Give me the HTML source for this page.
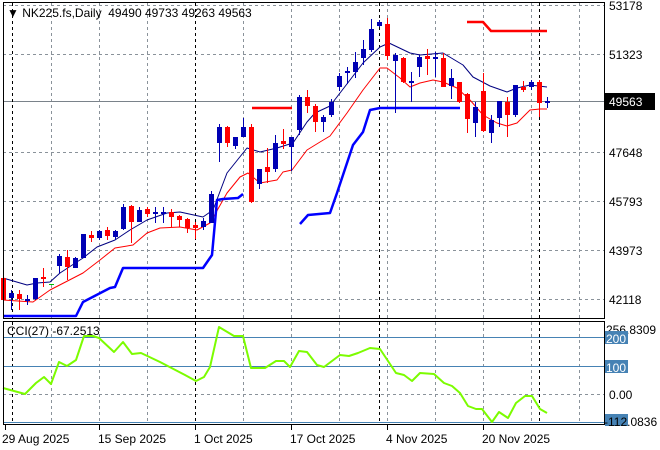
<!DOCTYPE html>
<html><head><meta charset="utf-8"><style>
html,body{margin:0;padding:0;background:#fff;}
svg{display:block;font-family:"Liberation Sans",sans-serif;}
</style></head><body>
<svg id="s" width="660" height="450" xmlns="http://www.w3.org/2000/svg">
<rect width="660" height="450" fill="#fff"/>
<g id="grid" stroke="#8a929a" stroke-dasharray="3,3" stroke-width="1"></g>
<line x1="3" y1="101.5" x2="604" y2="101.5" stroke="#7a828a"/>
<g id="black" stroke="#000" stroke-dasharray="3,3"></g>
<g id="lines" fill="none"></g>
<g id="candles"></g>
<rect x="3.5" y="2.5" width="601" height="316" fill="none" stroke="#000"/>
<rect x="3.5" y="321.5" width="601" height="103" fill="none" stroke="#000"/>
<g font-size="12" fill="#000">
<text x="7" y="17" xml:space="preserve">▼ NK225.fs,Daily  49490 49733 49263 49563</text>
<text x="609" y="10">53178</text>
<text x="609" y="59">51323</text>
<rect x="605" y="93" width="50" height="17" fill="#000"/>
<text x="609" y="106" fill="#fff">49563</text>
<text x="609" y="157">47648</text>
<text x="609" y="206">45793</text>
<text x="609" y="255">43973</text>
<text x="609" y="304">42118</text>
<text x="7" y="335">CCI(27) -67.2513</text>
<text x="606" y="334">256.8309</text>
<rect x="605" y="331" width="23" height="13" fill="#4682b4"/>
<text x="606" y="343" fill="#fff">200</text>
<rect x="605" y="360" width="23" height="13" fill="#4682b4"/>
<text x="606" y="372" fill="#fff">100</text>
<text x="609" y="399">0.00</text>
<rect x="605" y="414" width="23" height="12" fill="#4682b4"/>
<text x="604" y="426">-112.0836</text>
<text x="2" y="443">29 Aug 2025</text>
<text x="98" y="443">15 Sep 2025</text>
<text x="194" y="443">1 Oct 2025</text>
<text x="290" y="443">17 Oct 2025</text>
<text x="386" y="443">4 Nov 2025</text>
<text x="482" y="443">20 Nov 2025</text>
</g>
</svg>
<script>
var NS="http://www.w3.org/2000/svg";
function el(p,t,a){var e=document.createElementNS(NS,t);for(var k in a)e.setAttribute(k,a[k]);document.getElementById(p).appendChild(e);return e;}
for(var x=3;x<=600;x+=48){if(x==195)continue;el("grid","line",{x1:x+.5,y1:3,x2:x+.5,y2:318});el("grid","line",{x1:x+.5,y1:322,x2:x+.5,y2:424});}
[5,54,152,201,250,299].forEach(function(y){el("grid","line",{x1:3,y1:y+.5,x2:604,y2:y+.5});});
el("grid","line",{x1:3,y1:394.5,x2:604,y2:394.5});
[12,195,379,539].forEach(function(x){el("black","line",{x1:x+.5,y1:3,x2:x+.5,y2:318});el("black","line",{x1:x+.5,y1:322,x2:x+.5,y2:424});});
[5,99,195,291,387,483].forEach(function(x){el("black","line",{x1:x+.5,y1:425,x2:x+.5,y2:430,"stroke-dasharray":"none"});});
[337,366,422].forEach(function(y){el("lines","line",{x1:3,y1:y+.5,x2:604,y2:y+.5,stroke:"#4682b4"});});
function pl(pts,c,w){el("lines","polyline",{points:pts,stroke:c,"stroke-width":w,"stroke-linejoin":"round"});}
pl("3,278 27,285 37,283 50,282 60,273 83,258 97,247 115,240 130,230 147,220 167,213 180,212 203,217 213,210 227,173 247,148 260,152 277,148 293,143 307,122 315,113 330,106 350,80 363,63 380,47 389,43 410,53 420,55 443,53 463,65 473,77 490,86 507,92 517,88 530,85 547,87","#000080",1);
pl("3,300 33,302 50,290 83,273 100,260 115,248 133,245 147,233 160,228 180,227 197,230 210,223 227,193 240,177 248,173 260,183 277,180 283,172 292,170 307,150 320,142 330,136 347,113 363,90 380,68 387,68 400,78 410,87 420,83 433,80 443,82 457,88 470,100 483,115 497,123 507,126 517,123 530,110 540,109 547,109","#ff0000",1);
pl("3,316 76,316 83,302 110,288 115,287 123,268 203,268 212,255 217,200 223,199 238,198 243,194","#0000ff",2.5);
pl("300,224 308,215 330,213 337,193 353,145 363,132 370,110 380,108 460,108","#0000ff",2.5);
pl("252,108 292,108","#ff0000",2.5);
pl("467,22 483,22 491,31 547,31","#ff0000",2.5);
pl("3,388 25,394 36,383 44,377 51,384 59,362 67,366 76,360 84,336 93,336 99,338 114,352 123,342 132,354 141,353 160,362 185,375 196,381 204,377 210,367 219,327 234,336 243,336 251,368 265,368 276,361 284,361 290,367 299,351 307,352 317,365 324,367 340,355 349,356 358,353 370,348 380,349 396,373 404,375 412,381 420,373 434,374 444,383 452,386 460,393 468,406 476,409 482,409 492,422 499,412 508,418 516,403 525,396 532,396 540,409 547,413","#7cfc00",2);
var C=[["r",278,300,278,300],["b",293,298,290,310],["r",294,299,290,310],["b",299,301,295,305],["b",278,299,278,300],["r",277,279,268,287],["g",284,285,284,285],["b",256,266,254,273],["r",257,267,250,280],["b",258,268,257,268],["b",234,258,234,258],["r",235,238,231,242],["b",231,238,230,240],["r",230,236,227,240],["b",231,237,230,240],["b",207,229,204,230],["r",206,222,205,243],["b",210,222,207,222],["r",209,214,207,217],["b",212,214,207,223],["b",212,214,207,223],["r",212,217,209,227],["r",216,220,215,227],["r",219,228,218,233],["r",225,228,222,239],["b",221,227,218,230],["b",194,223,191,223],["b",127,143,124,162],["r",127,143,126,147],["b",137,146,137,149],["b",127,137,118,137],["r",127,202,124,203],["b",169,184,169,189],["r",167,172,148,183],["b",143,169,135,172],["r",141,144,129,149],["b",137,147,137,171],["b",97,130,95,135],["r",97,106,90,113],["r",106,122,104,132],["b",117,122,115,132],["b",102,115,99,117],["b",76,87,73,91],["b",71,73,67,84],["b",62,72,52,78],["b",49,58,40,65],["b",29,50,19,52],["b",22,26,20,27],["r",24,56,18,60],["b",55,61,53,113],["r",58,82,57,83],["b",81,83,72,102],["b",57,67,55,77],["r",56,59,49,75],["b",57,59,52,77],["r",58,87,53,87],["b",78,86,69,99],["r",82,102,82,103],["r",94,119,93,133],["b",107,123,102,137],["r",91,131,73,132],["b",120,133,115,143],["b",101,118,101,127],["r",102,115,97,137],["b",85,115,85,117],["r",87,90,81,92],["b",82,87,80,90],["r",82,103,80,117],["b",101,103,97,108]];
var col={r:"#ff0000",b:"#0000b4",g:"#00c000"};
C.forEach(function(c,i){var x=3+8*i,f=col[c[0]];
el("candles","line",{x1:x+.5,y1:c[3],x2:x+.5,y2:c[4],stroke:f});
el("candles","rect",{x:x-2,y:c[1],width:5,height:Math.max(1,c[2]-c[1]),fill:f});});
</script>
</body></html>
